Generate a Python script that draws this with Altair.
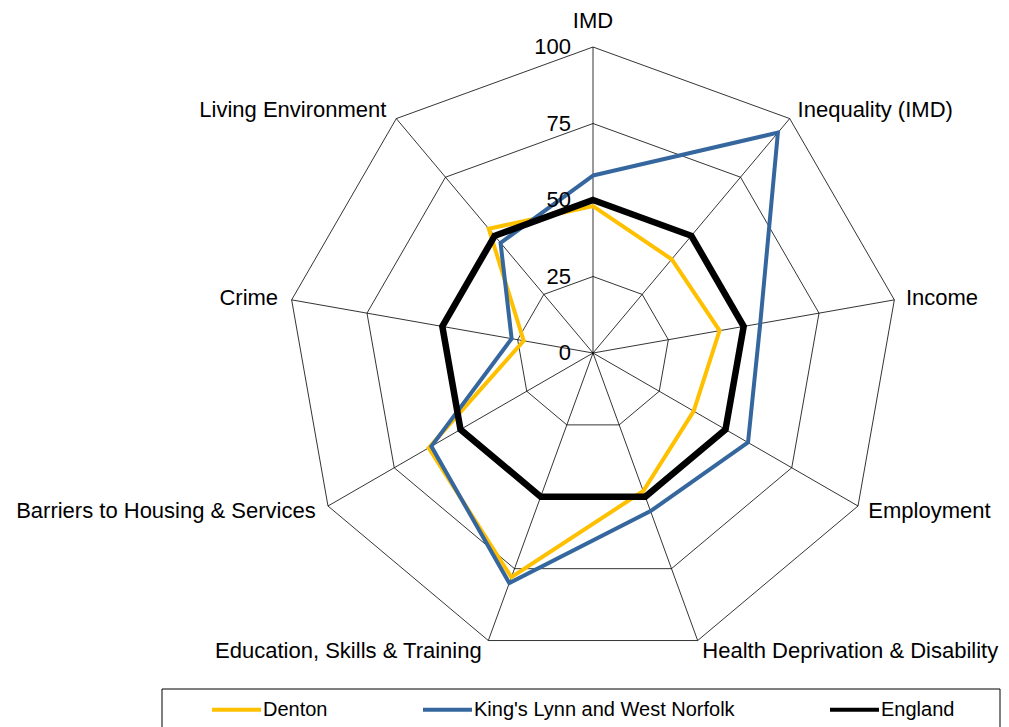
import altair as alt
import pandas as pd

# ---------------- data ----------------
categories = [
    "IMD",
    "Inequality (IMD)",
    "Income",
    "Employment",
    "Health Deprivation & Disability",
    "Education, Skills & Training",
    "Barriers to Housing & Services",
    "Crime",
    "Living Environment",
]
denton = [48, 40, 42, 38, 48, 78, 62, 23, 53]
kings_lynn = [58, 94, 55.5, 58.5, 55, 80, 61, 27, 47]
england = [50, 50, 50, 50, 50, 50, 50, 50, 50]

series_names = ["Denton", "King's Lynn and West Norfolk", "England"]
series_colors = ["#FFC000", "#35679E", "#000000"]
series_widths = [4, 4, 6.5]

ring_levels = [25, 50, 75, 100]
tick_labels = [0, 25, 50, 75, 100]

# ---------------- tables ----------------
n = len(categories)
rows = []
for name, vals in zip(series_names, [denton, kings_lynn, england]):
    for i, (c, v) in enumerate(zip(categories, vals)):
        rows.append({"series": name, "idx": i, "category": c, "value": v})
df = pd.DataFrame(rows)

grid_df = pd.DataFrame([{"level": r, "idx": i} for r in ring_levels for i in range(n)])
spoke_df = pd.DataFrame({"idx": list(range(n)), "category": categories})
tick_df = pd.DataFrame({"tick": tick_labels})

ANG = f"datum.idx * 2 * PI / {n}"
FONT = "Liberation Sans"

xs = alt.Scale(domain=[-100, 100], nice=False, zero=False)
ys = alt.Scale(domain=[-100, 100], nice=False, zero=False)

# rings
grid = (
    alt.Chart(grid_df)
    .transform_calculate(gx=f"datum.level * sin({ANG})", gy=f"datum.level * cos({ANG})")
    .mark_line(interpolate="linear-closed", stroke="black", strokeWidth=0.8)
    .encode(
        x=alt.X("gx:Q", scale=xs, axis=None),
        y=alt.Y("gy:Q", scale=ys, axis=None),
        detail="level:O",
        order="idx:Q",
    )
)

# spokes
spokes = (
    alt.Chart(spoke_df)
    .transform_calculate(
        zx="0", zy="0", sx=f"100 * sin({ANG})", sy=f"100 * cos({ANG})"
    )
    .mark_rule(stroke="black", strokeWidth=0.8)
    .encode(
        x=alt.X("zx:Q", scale=xs, axis=None),
        y=alt.Y("zy:Q", scale=ys, axis=None),
        x2="sx:Q",
        y2="sy:Q",
    )
)

# radial tick labels
ticks = (
    alt.Chart(tick_df)
    .transform_calculate(tx="0", tl="'' + datum.tick")
    .mark_text(align="right", baseline="middle", dx=-22, font=FONT, fontSize=22, color="black")
    .encode(
        x=alt.X("tx:Q", scale=xs, axis=None),
        y=alt.Y("tick:Q", scale=ys, axis=None),
        text="tl:N",
    )
)

# category labels
lab_base = alt.Chart(spoke_df).transform_calculate(
    lr="datum.idx == 0 ? 108.6 : 103.5",
).transform_calculate(
    lx=f"datum.lr * sin({ANG})", ly=f"datum.lr * cos({ANG})"
)
lab_enc = dict(
    x=alt.X("lx:Q", scale=xs, axis=None),
    y=alt.Y("ly:Q", scale=ys, axis=None),
    text="category:N",
)
lab_top = lab_base.transform_filter("datum.idx == 0").mark_text(
    align="center", baseline="middle", font=FONT, fontSize=22, color="black"
).encode(**lab_enc)
lab_right = lab_base.transform_filter("datum.idx >= 1 && datum.idx <= 4").mark_text(
    align="left", baseline="middle", dx=1, font=FONT, fontSize=22, color="black"
).encode(**lab_enc)
lab_left = lab_base.transform_filter("datum.idx >= 5").mark_text(
    align="right", baseline="middle", dx=-3, font=FONT, fontSize=22, color="black"
).encode(**lab_enc)

# series (one layer each so England is drawn on top with its own width)
legend = alt.Legend(
    orient="none",
    legendX=-77,
    legendY=636,
    direction="horizontal",
    title=None,
    symbolType="stroke",
    symbolSize=2400,
    symbolStrokeWidth=4,
    labelFont=FONT,
    labelFontSize=20,
    labelColor="black",
    labelLimit=400,
    labelOffset=0,
    columnPadding=87,
    padding=0,
)
color_enc = alt.Color(
    "series:N",
    scale=alt.Scale(domain=series_names, range=series_colors),
    legend=legend,
)
series_layers = []
for name, w in zip(series_names, series_widths):
    series_layers.append(
        alt.Chart(df)
        .transform_filter(alt.datum.series == name)
        .transform_calculate(px=f"datum.value * sin({ANG})", py=f"datum.value * cos({ANG})")
        .mark_line(interpolate="linear-closed", strokeWidth=w)
        .encode(
            x=alt.X("px:Q", scale=xs, axis=None),
            y=alt.Y("py:Q", scale=ys, axis=None),
            color=color_enc,
            order="idx:Q",
        )
    )

# legend frame
frame = (
    alt.Chart(pd.DataFrame({"k": [0]}))
    .mark_rect(fill="white", fillOpacity=0, stroke="black", strokeWidth=1)
    .encode(
        x=alt.value(-125),
        x2=alt.value(713),
        y=alt.value(642),
        y2=alt.value(700),
    )
)

chart = (
    alt.layer(frame, grid, spokes, *series_layers, ticks, lab_top, lab_right, lab_left)
    .properties(
        width=612,
        height=612,
        autosize=alt.AutoSizeParams(type="none"),
        padding={"left": 279, "top": 39, "right": 102, "bottom": 68},
    )
    .configure(font=FONT, background="white")
    .configure_view(stroke=None)
)

chart.save("out.html", embed_options={"renderer": "svg", "actions": False})
